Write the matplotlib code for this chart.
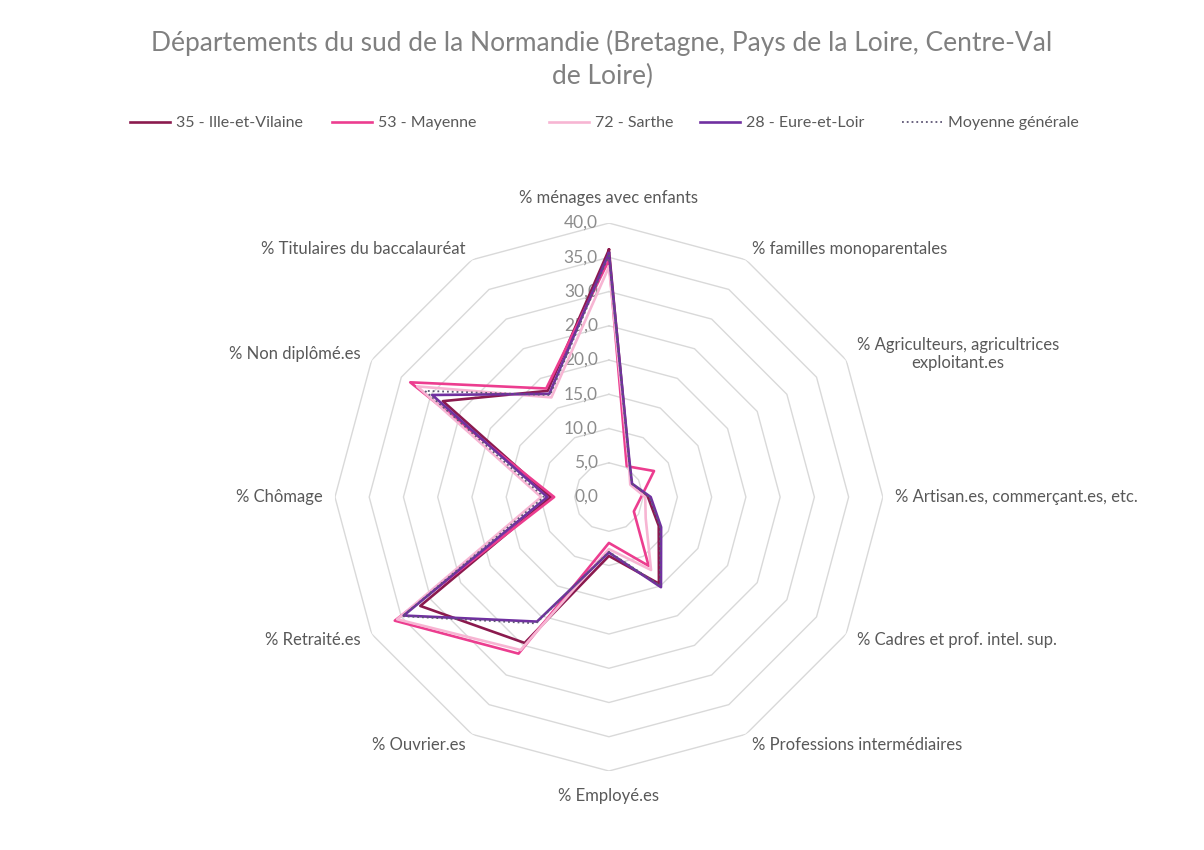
import numpy as np
import matplotlib
matplotlib.use("Agg")
import matplotlib.pyplot as plt
from matplotlib.lines import Line2D
from matplotlib.transforms import offset_copy

plt.rcParams['font.family'] = ['Lato', 'DejaVu Sans']

# ---- data ----
categories = [
    "% ménages avec enfants",
    "% familles monoparentales",
    "% Agriculteurs, agricultrices\nexploitant.es",
    "% Artisan.es, commerçant.es, etc.",
    "% Cadres et prof. intel. sup.",
    "% Professions intermédiaires",
    "% Employé.es",
    "% Ouvrier.es",
    "% Retraité.es",
    "% Chômage",
    "% Non diplômé.es",
    "% Titulaires du baccalauréat",
]

ille_et_vilaine = [36.1, 5.9, 3.8, 5.7, 8.4, 14.6, 8.6, 24.6, 31.8, 8.5, 28.0, 17.9]
mayenne = [34.6, 5.2, 7.6, 4.7, 4.2, 11.6, 6.7, 26.4, 36.1, 8.0, 33.5, 18.3]
sarthe = [33.6, 5.8, 3.6, 5.3, 6.2, 12.3, 7.6, 25.8, 35.7, 9.9, 32.3, 16.8]
eure_et_loir = [35.6, 6.0, 3.9, 6.1, 8.8, 15.2, 8.1, 21.0, 34.6, 9.0, 29.8, 17.4]
moyenne = [35.3, 5.9, 3.9, 5.9, 8.6, 14.9, 8.0, 21.3, 34.8, 9.5, 31.0, 17.2]

series_names = ["35 - Ille-et-Vilaine", "53 - Mayenne", "72 - Sarthe",
                "28 - Eure-et-Loir", "Moyenne générale"]
series_values = [ille_et_vilaine, mayenne, sarthe, eure_et_loir, moyenne]
colors = ["#8B1A4E", "#EC3D8F", "#F7B5D3", "#7030A0", "#5E5675"]
styles = ["-", "-", "-", "-", ":"]
widths = [1.9, 1.9, 1.9, 1.9, 1.3]

ticks = [0, 5, 10, 15, 20, 25, 30, 35, 40]

# legend item left edges (px)
legend_x = [130, 332, 549, 700, 902]

# ---- figure ----
fig = plt.figure(figsize=(12.04, 8.5), dpi=100)
ax = fig.add_axes([0.2782, 0.0929, 0.4551, 0.6447], projection='polar')
ax.set_theta_offset(np.pi / 2)
ax.set_theta_direction(-1)
ax.set_ylim(0, 40)
ax.grid(False)
ax.set_xticks([])
ax.set_yticks([])
ax.spines['polar'].set_visible(False)

n = len(categories)
angles = np.arange(n) * 2 * np.pi / n
closed = np.append(angles, angles[0])

# polygon grid
for r in ticks[1:]:
    ax.plot(closed, [r] * (n + 1), color="#D9D9D9", lw=1.0, zorder=1)

# tick labels left of the vertical axis
tr = offset_copy(ax.transData, fig=fig, x=-11, y=0, units='dots')
for r in ticks:
    ax.text(0, r, f"{r:.1f}".replace(".", ","), transform=tr, ha='right',
            va='center', fontsize=12.5, color="#8C8C8C", zorder=2)

# series
for vals, c, ls, lw in zip(series_values, colors, styles, widths):
    ax.plot(closed, vals + [vals[0]], color=c, ls=ls, lw=lw, zorder=3)

# category labels
for i, (a, lab) in enumerate(zip(angles, categories)):
    s = np.sin(a)
    if abs(s) < 0.01:
        ax.text(a, 43.6, lab, ha='center', va='center', fontsize=12,
                color="#595959")
    else:
        ax.text(a, 41.8, lab, ha='left' if s > 0 else 'right', va='center',
                multialignment='center', fontsize=12, color="#595959")

# title
fig.text(0.5, 1 - 43 / 850, "Départements du sud de la Normandie (Bretagne, Pays de la Loire, Centre-Val",
         ha='center', va='center', fontsize=19, color="#808080")
fig.text(0.5, 1 - 76 / 850, "de Loire)", ha='center', va='center',
         fontsize=19, color="#808080")

# legend, one entry per series at its own place
for name, c, ls, lw, x in zip(series_names, colors, styles, widths, legend_x):
    h = Line2D([], [], color=c, ls=ls, lw=lw)
    fig.legend([h], [name], loc='center left',
               bbox_to_anchor=(x / 1204, 1 - 123 / 850),
               frameon=False, fontsize=11.5, labelcolor="#595959",
               handlelength=2.5, handletextpad=0.4, borderpad=0,
               borderaxespad=0)

fig.savefig("out.png", dpi=100)
